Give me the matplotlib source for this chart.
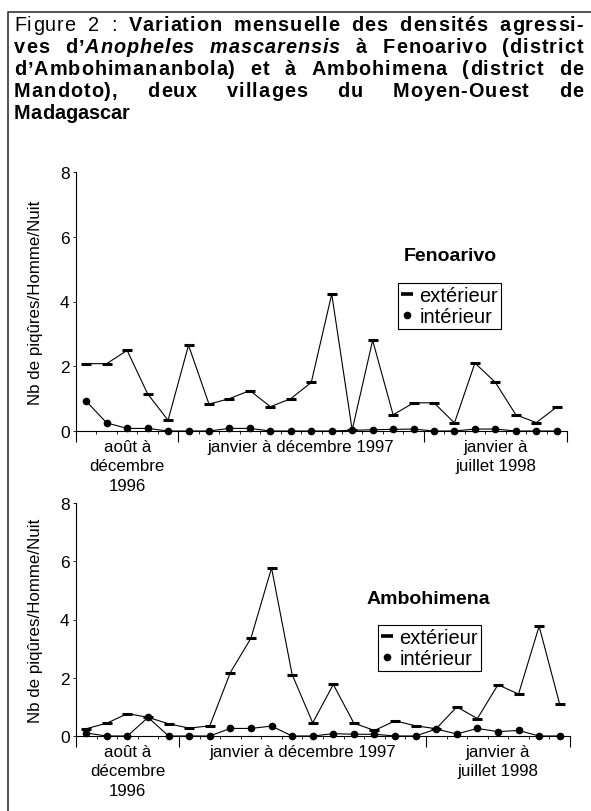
import matplotlib
matplotlib.use("Agg")
import matplotlib.pyplot as plt
from matplotlib.lines import Line2D

plt.rcParams['font.family'] = ['Liberation Sans', 'DejaVu Sans']

# 24 months: Aug 1996 -> Jul 1998
months = list(range(24))
fen_ext = [2.08, 2.08, 2.49, 1.15, 0.33, 2.65, 0.83, 1.0, 1.25, 0.75, 1.0, 1.5,
           4.23, 0.03, 2.80, 0.5, 0.87, 0.87, 0.25, 2.10, 1.5, 0.5, 0.26, 0.74]
fen_int = [0.92, 0.25, 0.08, 0.08, 0, 0, 0, 0.08, 0.08, 0, 0, 0,
           0, 0.02, 0.04, 0.05, 0.06, 0, 0, 0.06, 0.06, 0, 0, 0]
amb_ext = [0.25, 0.44, 0.77, 0.64, 0.42, 0.27, 0.35, 2.18, 3.36, 5.77, 2.11, 0.45,
           1.77, 0.44, 0.19, 0.52, 0.35, 0.25, 1.0, 0.6, 1.76, 1.44, 3.77, 1.09]
amb_int = [0.10, 0, 0, 0.64, 0, 0, 0, 0.26, 0.26, 0.34, 0, 0,
           0.08, 0.06, 0.06, 0, 0, 0.24, 0.07, 0.26, 0.15, 0.19, 0, 0]

group_labels = ["août à\ndécembre\n1996", "janvier à décembre 1997", "janvier à\njuillet 1998"]
group_sizes = [5, 12, 7]
yticks = [0, 2, 4, 6, 8]
ylabel = "Nb de piqûres/Homme/Nuit"
series_names = ["extérieur", "intérieur"]

title_lines = [
    [("Figure 2 : ", "normal", "normal"), ("Variation mensuelle des densités agressi-", "bold", "normal")],
    [("ves d’", "bold", "normal"), ("Anopheles mascarensis", "bold", "italic"), (" à Fenoarivo (district", "bold", "normal")],
    [("d’Ambohimananbola) et à Ambohimena (district de", "bold", "normal")],
    [("Mandoto), deux villages du Moyen-Ouest de", "bold", "normal")],
    [("Madagascar", "bold", "normal")],
]

W, H = 591, 812
fig = plt.figure(figsize=(W / 100, H / 100), dpi=100)
renderer = fig.canvas.get_renderer()

# outer frame (left and top edges visible)
fig.add_artist(Line2D([8 / W, 8 / W, 1.0], [0, 1 - 13 / H, 1 - 13 / H],
                      transform=fig.transFigure, color='#444444', lw=1.3))


# justified title (extra space shared between letters and words)
def tokenize(segments):
    words = [[]]
    for txt, w, s in segments:
        parts = txt.split(' ')
        for k, p in enumerate(parts):
            if k > 0:
                words.append([])
            if p:
                words[-1].append((p, w, s))
    return [wd for wd in words if wd]


_cache = {}


def advance(c, w, s, fs):
    key = (c, w, s, fs)
    if key not in _cache:
        t1 = fig.text(0, 0, "H" + c + "H", fontsize=fs, weight=w, style=s)
        t2 = fig.text(0, 0, "HH", fontsize=fs, weight=w, style=s)
        _cache[key] = t1.get_window_extent(renderer).width - t2.get_window_extent(renderer).width
        t1.remove()
        t2.remove()
    return _cache[key]


left, right = 14, 583
baselines = [31, 53, 75, 97, 119]
title_fs = 14.3
space_w = advance(" ", "bold", "normal", title_fs)
all_words = [tokenize(segs) for segs in title_lines]


def word_width(wd, track):
    chars = [(c, w, s) for p, w, s in wd for c in p]
    return sum(advance(c, w, s, title_fs) for c, w, s in chars) + track * (len(chars) - 1)


for li, words in enumerate(all_words):
    last = li == len(all_words) - 1
    nch = sum(len(p) for wd in words for p, w, s in wd)
    nat = sum(word_width(wd, 0) for wd in words) + space_w * (len(words) - 1)
    track = 0.0 if last else min(max(0.0, (right - left - nat) * 0.6 / nch), 1.0)
    widths = [word_width(wd, track) for wd in words]
    gap = space_w + track if (last or len(words) < 2) else (right - left - sum(widths)) / (len(words) - 1)
    x = left
    for wd in words:
        for p, w, s in wd:
            for c in p:
                fig.text(x / W, 1 - baselines[li] / H, c, fontsize=title_fs, weight=w, style=s,
                         ha='left', va='baseline')
                x += advance(c, w, s, title_fs) + track
        x += gap - track


def draw_panel(box, ext, inn, name, name_xy, leg_xy):
    l, r, top, bottom = box
    ax = fig.add_axes([l / W, 1 - bottom / H, (r - l) / W, (bottom - top) / H])
    ax.plot(months, ext, color='k', lw=0.8, marker='_', ms=7, mew=2.2, clip_on=False, zorder=3)
    ax.plot(months, inn, color='k', lw=0.8, marker='o', ms=4.5, clip_on=False, zorder=3)
    ax.set_xlim(-0.5, 23.5)
    ax.set_ylim(0, 8)
    ax.set_yticks(yticks)
    for s in ['top', 'right']:
        ax.spines[s].set_visible(False)
    ax.spines['left'].set_linewidth(0.8)
    ax.spines['bottom'].set_linewidth(0.8)
    bounds = [-0.5]
    for g in group_sizes:
        bounds.append(bounds[-1] + g)
    ax.set_xticks(bounds)
    ax.set_xticks([k - 0.5 for k in range(25)], minor=True)
    ax.tick_params(axis='x', which='major', length=8, width=0.8, labelbottom=False)
    ax.tick_params(axis='x', which='minor', length=2.5, width=0.6)
    ax.tick_params(axis='y', length=2.5, width=0.6, labelsize=12.5, pad=2)
    for lab, a, b in zip(group_labels, bounds[:-1], bounds[1:]):
        ax.annotate(lab, xy=((a + b) / 2, 0), xycoords=('data', 'axes fraction'),
                    xytext=(0, -5.5), textcoords='offset points', ha='center', va='top',
                    fontsize=12.2, linespacing=1.38)
    fig.text(36 / W, 1 - (top + bottom) / 2 / H, ylabel, rotation=90, ha='center', va='center',
             fontsize=12.2)
    fig.text(name_xy[0] / W, 1 - name_xy[1] / H, name, ha='center', va='center',
             fontsize=14, weight='bold')
    handles = [Line2D([], [], color='k', ls='none', marker='_', ms=8, mew=2.6),
               Line2D([], [], color='k', ls='none', marker='o', ms=4.5)]
    leg = ax.legend(handles, series_names, loc='upper left',
                    bbox_to_anchor=(leg_xy[0] / W, 1 - leg_xy[1] / H),
                    bbox_transform=fig.transFigure, borderaxespad=0, fancybox=False,
                    framealpha=1, edgecolor='k', fontsize=14.5, handlelength=0.55,
                    handletextpad=0.35, borderpad=0.15, labelspacing=0.12)
    leg.get_frame().set_linewidth(0.8)
    return ax


draw_panel((76, 567, 173, 432), fen_ext, fen_int, "Fenoarivo", (450, 257), (398, 284))
draw_panel((76, 570, 504, 737), amb_ext, amb_int, "Ambohimena", (428, 600), (378, 626))

fig.savefig("out.png", dpi=100)
